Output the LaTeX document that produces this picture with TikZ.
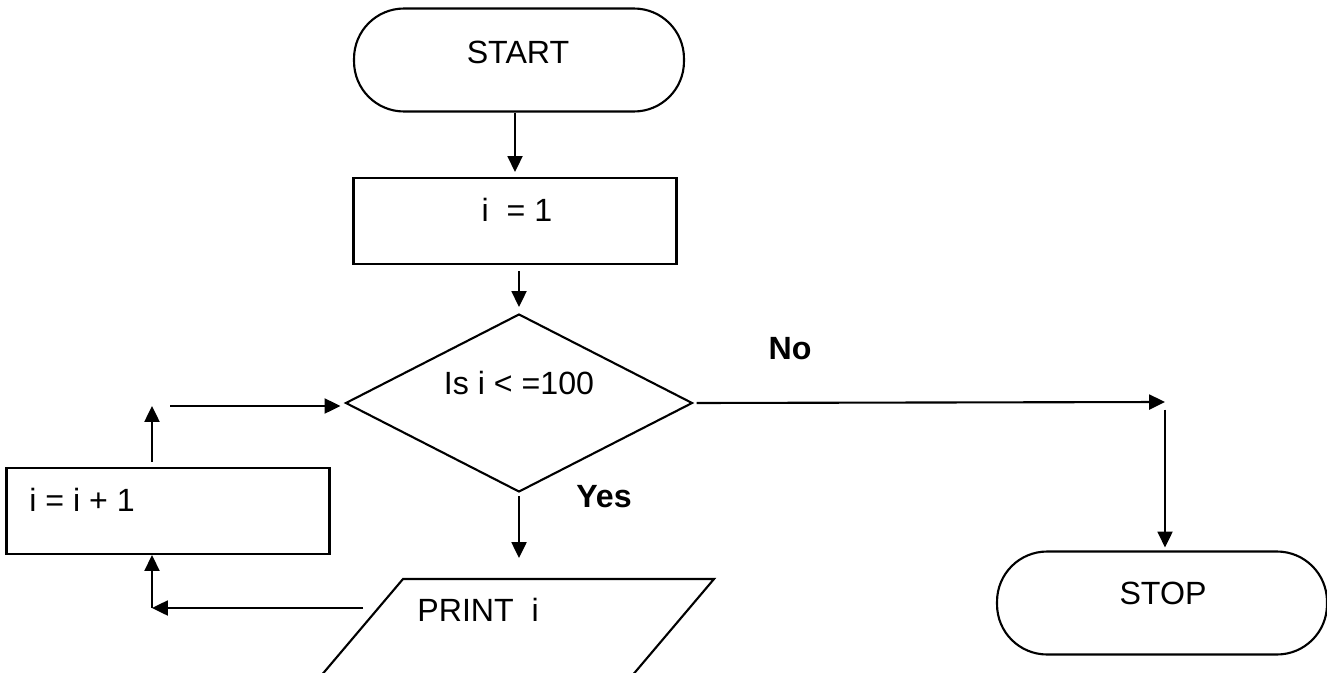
\documentclass[tikz,border=0pt]{standalone}
\usepackage{fontspec}
\setmainfont{Liberation Sans}
\usepackage{tikz}
\usetikzlibrary{shapes.geometric, arrows.meta, positioning, calc}

\begin{document}
\begin{tikzpicture}[
    x=0.02cm, y=-0.02cm,
    shapeline/.style={draw, line width=1.2pt, inner sep=0pt},
    terminal/.style={shapeline, rectangle, rounded corners=1cm, minimum width=6.6cm, minimum height=2.06cm},
    process/.style={shapeline, rectangle, minimum width=6.46cm, minimum height=1.72cm},
    decision/.style={shapeline, diamond, minimum width=6.94cm, minimum height=3.56cm},
    txt/.style={font=\fontsize{18.3}{22}\selectfont, inner sep=0pt},
    flow/.style={-{Triangle[length=9pt, width=8.5pt]}, line width=1.2pt}
]
\useasboundingbox (0,0) rectangle (1327,672);
\clip (0,0) rectangle (1327,672);

% Shapes
\node[terminal] (start) at (519,60) {};
\node[process] (init) at (515,221) {};
\node[decision] (test) at (519,403) {};
\node[process] (inc) at (168,511) {};
\node[terminal] (stop) at (1162,603) {};
% print box, cut by the lower edge
\coordinate (printtl) at (403,579);
\coordinate (printtr) at (714,579);
\draw[shapeline, line join=miter] (printtl) -- (printtr) -- ++(-94,111) -- (309,690) -- cycle;

% Texts
\node[txt] (starttext) at (518,52) {START};
\node[txt] (inittext) at (517,210) {i\ \ = 1};
\node[txt] (testtext) at (519,383) {Is i < =100};
\node[txt, anchor=west] (printtext) at (417,610) {PRINT\ \ i};
\node[txt, anchor=west] (inctext) at (29,500) {i = i + 1};
\node[txt] (stoptext) at (1163,593) {STOP};
\node[txt, font=\fontsize{18.3}{22}\selectfont\bfseries] (nolabel) at (790,349) {No};
\node[txt, font=\fontsize{18.3}{22}\selectfont\bfseries] (yeslabel) at (604,497) {Yes};

% Corners of the loop and the No branch
\coordinate (nocorner) at (1165,402);
\coordinate (printleft) at (363,608);
\coordinate (loopin) at (152,608);
\coordinate (loopout) at (152,406);

% Arrows
\draw[flow, shorten >=0.1cm] (init.north |- start.south) -- (init.north);
\draw[flow, shorten <=0.12cm, shorten >=0.12cm] (test.north |- init.south) -- (test.north);
\draw[flow, shorten <=0.06cm, shorten >=0.42cm] (test.south) -- (test.south |- printtl);
\draw[flow, shorten <=0.06cm] (test.east) -- (nocorner);
\draw[flow, shorten <=0.15cm, shorten >=0.06cm] (nocorner) -- (nocorner |- stop.north);
\draw[flow] (printleft) -- (loopin);
\draw[flow] (loopin) -- (loopin |- inc.south);
\draw[flow, shorten <=0.1cm] (loopout |- inc.north) -- (loopout);
\draw[flow, shorten >=0.08cm] ($(loopout)+(18,0)$) -- (loopout -| test.west);

\end{tikzpicture}
\end{document}
